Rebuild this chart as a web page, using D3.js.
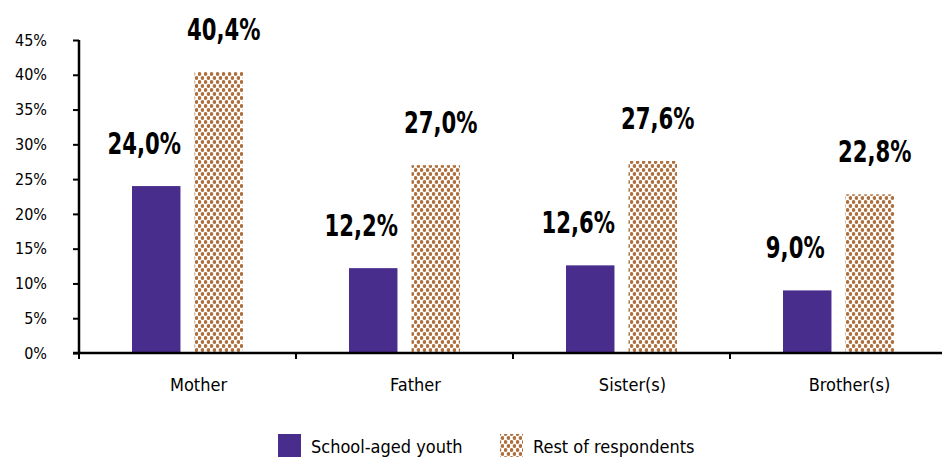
<!DOCTYPE html>
<html>
<head>
<meta charset="utf-8">
<script src="https://cdn.jsdelivr.net/npm/d3@7"></script>
<style>
  html, body { margin: 0; padding: 0; background: #fff; }
  svg { display: block; }
  .tick text { fill: #000; }
</style>
</head>
<body>
<svg id="chart" width="942" height="457"></svg>
<script>
// Share of respondents naming each family member
const categories = ["Mother", "Father", "Sister(s)", "Brother(s)"];
const seriesNames = ["School-aged youth", "Rest of respondents"];
const schoolAged = [24.0, 12.2, 12.6, 9.0];
const restOfRespondents = [40.4, 27.0, 27.6, 22.8];
const yTicks = [0, 5, 10, 15, 20, 25, 30, 35, 40, 45];

const purple = "#482D8C";
const brown = "#AE6F3C";

const svg = d3.select("#chart");
const W = 942, H = 457;
const plotLeft = 79, plotTop = 40, plotBottom = 353;

// dotted fill for the second series
const defs = svg.append("defs");
const pat = defs.append("pattern")
  .attr("id", "dots")
  .attr("patternUnits", "userSpaceOnUse")
  .attr("width", 6).attr("height", 8);
pat.append("rect").attr("width", 6).attr("height", 8).attr("fill", "#fff");
[[1.5, 2], [4.5, 6]].forEach(([cx, cy]) => {
  pat.append("circle").attr("cx", cx).attr("cy", cy).attr("r", 1.9).attr("fill", brown);
});

const y = d3.scaleLinear().domain([0, 45]).range([plotBottom, plotTop]);
const x = d3.scaleBand().domain(categories).range([plotLeft, plotLeft + 217 * 4]).padding(0);
const inner = d3.scaleBand().domain([0, 1]).range([53, 217 - 53]).paddingInner(0.225);

const series = [
  { name: seriesNames[0], values: schoolAged, fill: purple, labelDx: -12 },
  { name: seriesNames[1], values: restOfRespondents, fill: "url(#dots)", labelDx: 5 }
];

const fmt = v => v.toFixed(1).replace(".", ",") + "%";

// bars and their value labels
series.forEach((s, si) => {
  const g = svg.append("g");
  g.selectAll("rect").data(categories).join("rect")
    .attr("x", c => x(c) + inner(si))
    .attr("width", inner.bandwidth())
    .attr("y", (c, i) => y(s.values[i]))
    .attr("height", (c, i) => y(0) - y(s.values[i]))
    .attr("fill", s.fill);
  g.selectAll("text").data(categories).join("text")
    .attr("transform", (c, i) =>
      `translate(${x(c) + inner(si) + inner.bandwidth() / 2 + s.labelDx},${y(s.values[i]) - 32}) scale(0.76,1)`)
    .attr("text-anchor", "middle")
    .attr("font-family", "'DejaVu Sans Condensed', sans-serif")
    .attr("font-weight", "bold")
    .attr("font-size", 31)
    .attr("fill", "#000")
    .text((c, i) => fmt(s.values[i]));
});

// y axis
const yAxis = svg.append("g")
  .attr("transform", `translate(${plotLeft},0)`)
  .call(d3.axisLeft(y).tickValues(yTicks).tickSize(6).tickPadding(26).tickFormat(d => d + "%"));
yAxis.select(".domain").attr("stroke", "#000").attr("stroke-width", 2.5).attr("d", `M0,${plotTop}V${plotBottom}`);
yAxis.selectAll(".tick line").attr("stroke", "#000").attr("stroke-width", 2);
yAxis.selectAll(".tick text")
  .attr("font-family", "'DejaVu Sans Condensed', sans-serif")
  .attr("font-size", 16);

// x axis with ticks at category boundaries
const xAxis = svg.append("g").attr("transform", `translate(0,${plotBottom})`);
xAxis.append("line").attr("x1", plotLeft - 6).attr("x2", W).attr("stroke", "#000").attr("stroke-width", 2.5);
const bounds = categories.map(c => x(c)).concat([x.range()[1]]);
xAxis.selectAll("line.b").data(bounds).join("line").attr("class", "b")
  .attr("x1", d => d).attr("x2", d => d).attr("y1", 0).attr("y2", 6)
  .attr("stroke", "#000").attr("stroke-width", 2);
xAxis.selectAll("text").data(categories).join("text")
  .attr("x", c => x(c) + x.bandwidth() / 2 + 11)
  .attr("y", 38)
  .attr("text-anchor", "middle")
  .attr("font-family", "'DejaVu Sans Condensed', sans-serif")
  .attr("font-size", 18)
  .attr("fill", "#000")
  .text(c => c);

// legend
const legend = svg.append("g");
const legendX = [278, 500];
series.forEach((s, si) => {
  legend.append("rect").attr("x", legendX[si]).attr("y", 434).attr("width", 23).attr("height", 23).attr("fill", s.fill);
  legend.append("text").attr("x", legendX[si] + 33).attr("y", 453)
    .attr("font-family", "'DejaVu Sans Condensed', sans-serif")
    .attr("font-size", 18).attr("fill", "#000").text(s.name);
});
</script>
</body>
</html>
